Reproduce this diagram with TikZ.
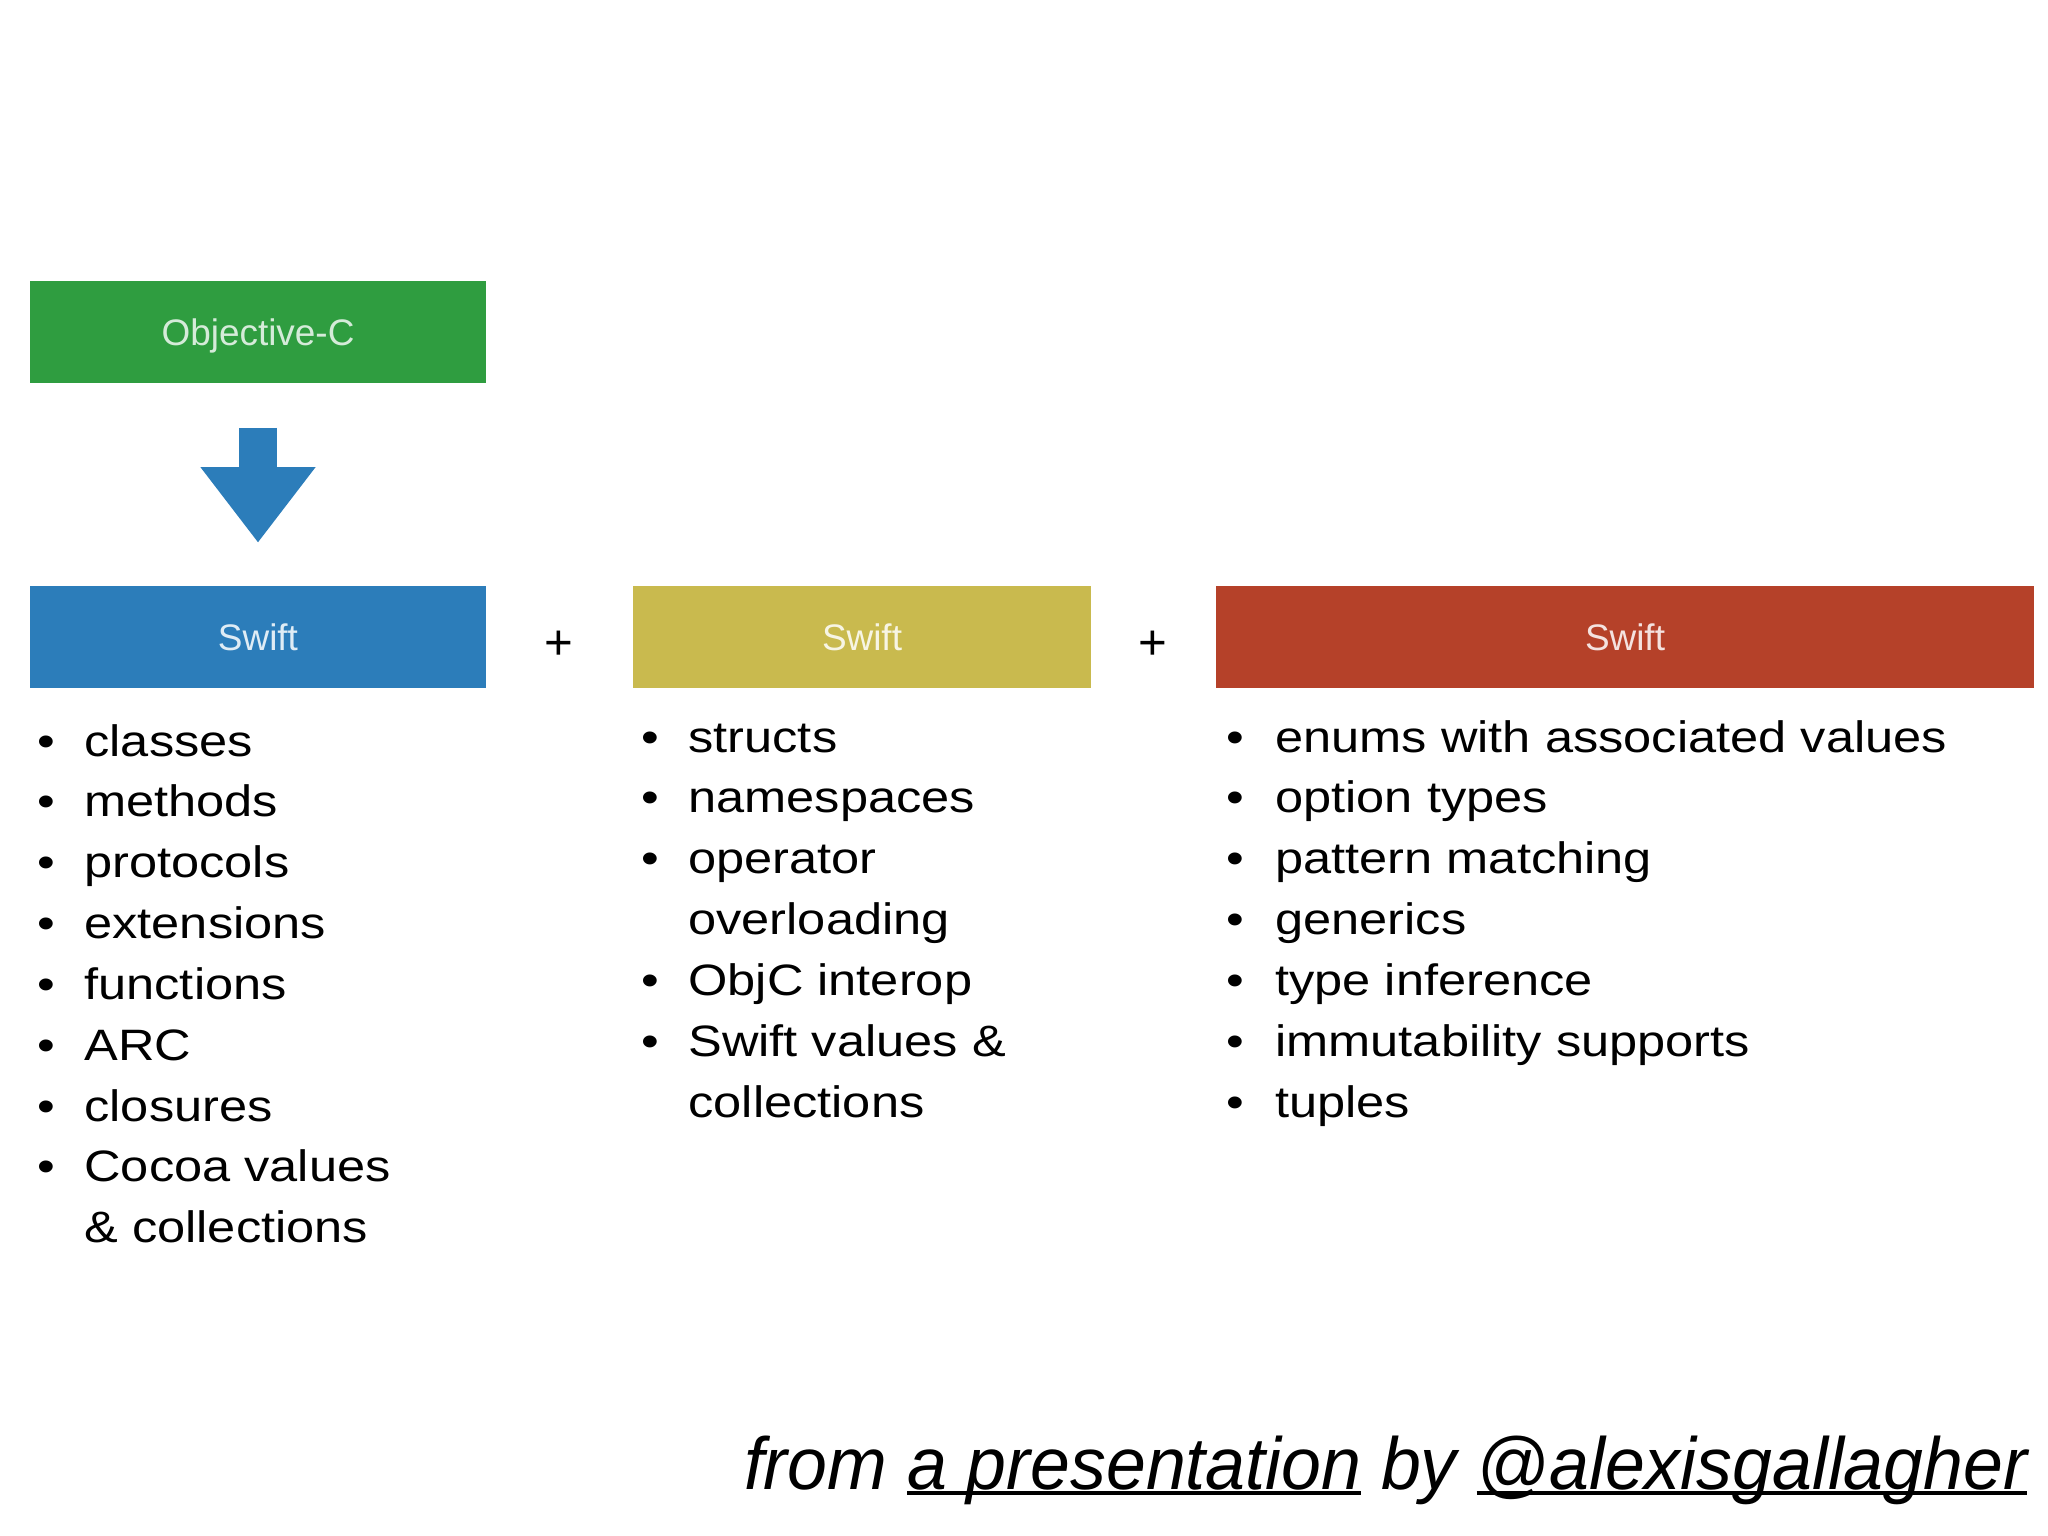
\documentclass[tikz,border=0pt]{standalone}
\usepackage{fontspec}
\setmainfont{Liberation Sans}
\newfontfamily\listfont[FakeStretch=1.15]{Liberation Sans}
\newfontfamily\creditfont[FakeStretch=0.97]{Liberation Sans}
\usetikzlibrary{arrows.meta,positioning}
\usepackage{xcolor}
\definecolor{objccolor}{RGB}{47,157,64}
\definecolor{swiftblue}{RGB}{44,125,186}
\definecolor{swiftyellow}{RGB}{201,186,78}
\definecolor{swiftred}{RGB}{181,65,41}
\newcommand{\credline}[1]{\setbox0\hbox{#1}\rlap{\rule[-0.055cm]{\wd0}{0.04cm}}\box0\relax}

\begin{document}
\begin{tikzpicture}[
    x=0.01cm, y=-0.01cm,
    langbox/.style={rectangle, minimum height=1.02cm, inner sep=0pt, text height=0.27cm, text depth=0pt, font=\fontsize{10.5}{12}\selectfont},
    objcbox/.style={langbox, fill=objccolor, text=white!80!objccolor},
    bluebox/.style={langbox, fill=swiftblue, text=white!85!swiftblue},
    yellowbox/.style={langbox, fill=swiftyellow, text=white!85!swiftyellow},
    redbox/.style={langbox, fill=swiftred, text=white!85!swiftred},
    featlist/.style={anchor=base west, inner sep=0pt, font=\listfont\fontsize{12.5}{17.3}\selectfont},
    plus/.style={font=\fontsize{14}{14}\selectfont},
    blockarrow/.style={swiftblue, line width=0.37cm, -{Triangle[width=1.15cm,length=0.75cm,line width=0pt]}}
]
\useasboundingbox (0,0) rectangle (2048,1536);

% Boxes
\node[objcbox, minimum width=4.56cm] (objc) at (258,332) {Objective-C};
\node[bluebox, minimum width=4.56cm] (swiftA) at (258,637) {Swift};
\node[yellowbox, minimum width=4.58cm] (swiftB) at (862,637) {Swift};
\node[redbox, minimum width=8.17cm] (swiftC) at (1625,637) {Swift};

% Arrow
\draw[blockarrow, shorten <=0.44cm, shorten >=0.43cm] (objc) -- (swiftA);

% Plus signs
\node[plus] (plusA) at (559,645) {+};
\node[plus] (plusB) at (1153,645) {+};

% Feature lists
\node[featlist] (listA) at (37,756) {\begin{tabular}[t]{@{}l@{\hspace{0.29cm}}l@{}}
    \textbullet & classes\\
    \textbullet & methods\\
    \textbullet & protocols\\
    \textbullet & extensions\\
    \textbullet & functions\\
    \textbullet & ARC\\
    \textbullet & closures\\
    \textbullet & Cocoa values\\
                & \& collections
\end{tabular}};
\node[featlist] (listB) at (641,752) {\begin{tabular}[t]{@{}l@{\hspace{0.29cm}}l@{}}
    \textbullet & structs\\
    \textbullet & namespaces\\
    \textbullet & operator\\
                & overloading\\
    \textbullet & ObjC interop\\
    \textbullet & Swift values \&\\
                & collections
\end{tabular}};
\node[featlist] (listC) at (1226,752) {\begin{tabular}[t]{@{}l@{\hspace{0.31cm}}l@{}}
    \textbullet & enums with associated values\\
    \textbullet & option types\\
    \textbullet & pattern matching\\
    \textbullet & generics\\
    \textbullet & type inference\\
    \textbullet & immutability supports\\
    \textbullet & tuples
\end{tabular}};

% Credit
\node[anchor=base east, inner sep=0pt, font=\creditfont\itshape\fontsize{21}{21}\selectfont] (credit) at (2028,1489)
    {from \credline{a presentation} by \credline{@alexisgallagher}};

\end{tikzpicture}
\end{document}
